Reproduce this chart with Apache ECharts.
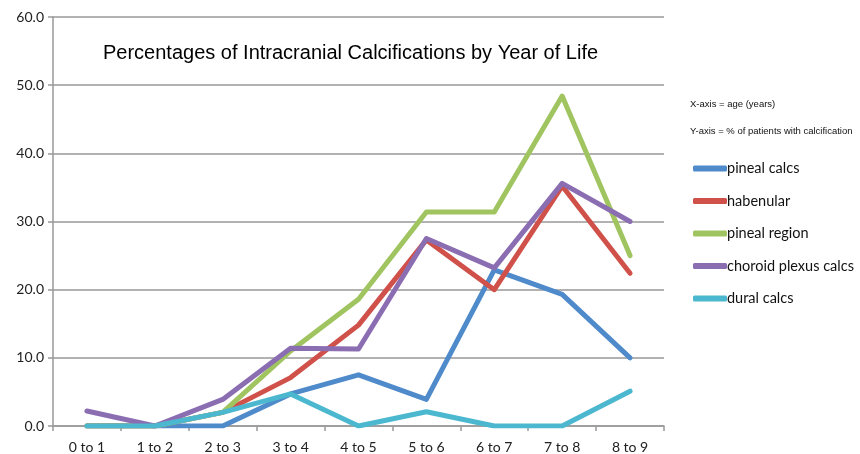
<!DOCTYPE html>
<html>
<head>
<meta charset="utf-8">
<script src="https://cdn.jsdelivr.net/npm/echarts@6/dist/echarts.min.js"></script>
<style>html,body{margin:0;padding:0;background:#fff}#c{width:860px;height:454px}</style>
</head>
<body>
<div id="c"></div>
<script>
var categories = ['0 to 1','1 to 2','2 to 3','3 to 4','4 to 5','5 to 6','6 to 7','7 to 8','8 to 9'];
var pinealCalcs = [0, 0, 0, 4.7, 7.5, 3.9, 22.9, 19.3, 10.0];
var habenular = [0, 0, 2.0, 7.1, 14.8, 27.3, 20.0, 35.2, 22.4];
var pinealRegion = [0, 0, 2.0, 11.0, 18.6, 31.4, 31.4, 48.4, 25.0];
var choroidPlexus = [2.2, 0, 3.9, 11.4, 11.3, 27.5, 23.2, 35.6, 30.0];
var duralCalcs = [0, 0, 2.0, 4.7, 0, 2.1, 0, 0, 5.1];
var yTicks = [0, 10, 20, 30, 40, 50, 60];

var chart = echarts.init(document.getElementById('c'));
function mk(name, data, color) {
  return {
    name: name, type: 'line', data: data, showSymbol: false, symbol: 'none',
    lineStyle: { width: 5, color: color, cap: 'round', join: 'round' },
    itemStyle: { color: color }, animation: false
  };
}
chart.setOption({
  animation: false,
  title: {
    text: 'Percentages of Intracranial Calcifications by Year of Life',
    left: 98, top: 38,
    textStyle: { fontFamily: 'Liberation Sans, Arial', fontSize: 20, fontWeight: 'normal', color: '#000' }
  },
  grid: { left: 53, right: 196, top: 17, bottom: 27, containLabel: false },
  xAxis: {
    type: 'category', data: categories, boundaryGap: true,
    axisLine: { lineStyle: { color: '#999', width: 1.5 } },
    axisTick: { show: true, length: 5, lineStyle: { color: '#999', width: 1.5 } },
    axisLabel: { color: '#222', fontFamily: 'Lato, Open Sans', fontSize: 14, margin: 14 }
  },
  yAxis: {
    type: 'value', min: yTicks[0], max: yTicks[yTicks.length - 1], interval: 10,
    axisLine: { show: true, lineStyle: { color: '#999', width: 1.5 } },
    axisTick: { show: true, length: 5, lineStyle: { color: '#999', width: 1.5 } },
    splitLine: { lineStyle: { color: '#999', width: 1.5 } },
    axisLabel: { color: '#222', fontFamily: 'Lato, Open Sans', fontSize: 14, margin: 9,
      formatter: function (v) { return v.toFixed(1); } }
  },
  legend: {
    orient: 'vertical', left: 688, top: 156, itemGap: 17.5,
    itemWidth: 34, itemHeight: 6, icon: 'roundRect',
    textStyle: { fontFamily: 'Lato, Open Sans', fontSize: 14.5, color: '#111', padding: [0, 0, 0, -5] },
    data: ['pineal calcs', 'habenular', 'pineal region', 'choroid plexus calcs', 'dural calcs']
  },
  graphic: [
    { type: 'text', left: 690, top: 99, style: { text: 'X-axis = age (years)', fontFamily: 'Liberation Sans, Arial', fontSize: 9.5, fill: '#111' } },
    { type: 'text', left: 690, top: 126, style: { text: 'Y-axis = % of patients with calcification', fontFamily: 'Liberation Sans, Arial', fontSize: 9.5, fill: '#111' } }
  ],
  series: [
    mk('pineal calcs', pinealCalcs, '#4F8ACB'),
    mk('habenular', habenular, '#D0504A'),
    mk('pineal region', pinealRegion, '#A0C460'),
    mk('choroid plexus calcs', choroidPlexus, '#8B6DB2'),
    mk('dural calcs', duralCalcs, '#4BB8CF')
  ]
});
</script>
</body>
</html>
